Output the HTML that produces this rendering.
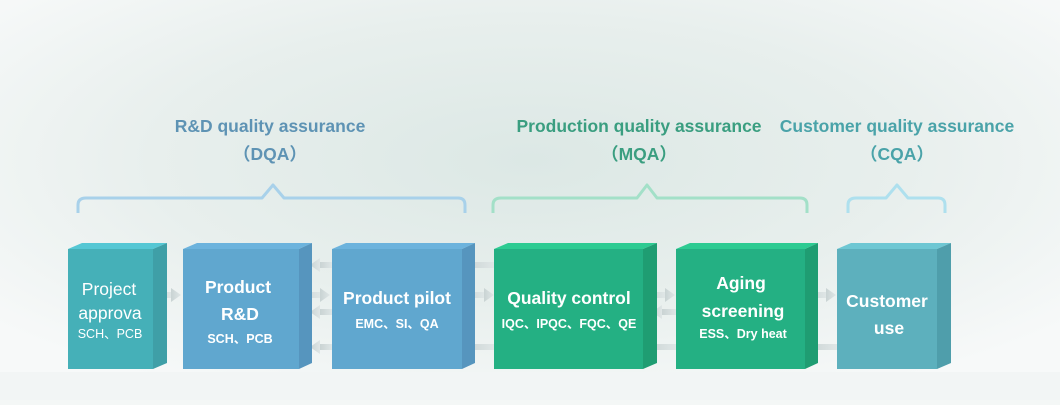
<!DOCTYPE html>
<html><head><meta charset="utf-8"><style>
html,body{margin:0;padding:0;}
body{width:1060px;height:400px;overflow:hidden;background:#f4f7f6;font-family:"Liberation Sans","Noto Sans CJK SC",sans-serif;}
</style></head><body>
<svg width="1060" height="400" viewBox="0 0 1060 400" xmlns="http://www.w3.org/2000/svg" font-family="Liberation Sans, Noto Sans CJK SC, sans-serif">
<defs>
<radialGradient id="bg" cx="0.5" cy="0.4" r="0.65">
<stop offset="0" stop-color="#dce8e5"/><stop offset="0.55" stop-color="#e8efed"/><stop offset="1" stop-color="#f7f9f9"/>
</radialGradient>
<linearGradient id="ar" x1="0" x2="1"><stop offset="0" stop-color="#c9d3d3"/><stop offset="1" stop-color="#dfe6e6"/></linearGradient>
</defs>
<rect width="1060" height="400" fill="url(#bg)"/>
<rect x="0" y="372" width="1060" height="28" fill="#f2f5f5"/>
<g font-weight="bold" font-size="17.5" text-anchor="middle">
<text x="270" y="132" fill="#5e93b4">R&amp;D quality assurance</text>
<text x="270" y="160" fill="#5e93b4">（DQA）</text>
<text x="639" y="132" fill="#3a9e80">Production quality assurance</text>
<text x="639" y="160" fill="#3a9e80">（MQA）</text>
<text x="897" y="132" fill="#4aa3a9">Customer quality assurance</text>
<text x="897" y="160" fill="#4aa3a9">（CQA）</text>
</g>
<g fill="none" stroke-width="3" stroke-linejoin="round">
<path d="M78,213 L78,205 Q78,198 86,198 L262,198 L273,185 L284,198 L458,198 Q465,198 465,205 L465,213" stroke="#a8d1ea"/>
<path d="M493,213 L493,205 Q493,198 501,198 L637,198 L647,185 L657,198 L800,198 Q807,198 807,205 L807,213" stroke="#a3e0c8"/>
<path d="M848,213 L848,205 Q848,198 856,198 L886,198 L897,185 L908,198 L938,198 Q945,198 945,205 L945,213" stroke="#aee0ee"/>
</g>
<g fill="url(#ar)">
<rect x="155" y="292" width="16" height="6"/><polygon points="171,288 181,295 171,302"/>
<rect x="300" y="292" width="20" height="6"/><polygon points="320,288 330,295 320,302"/>
<rect x="320" y="262" width="12" height="6"/><polygon points="320,258 310,265 320,272"/>
<rect x="320" y="309" width="12" height="6"/><polygon points="320,305 310,312 320,319"/>
<rect x="320" y="344" width="12" height="6"/><polygon points="320,340 310,347 320,354"/>
<rect x="464" y="262" width="30" height="6"/>
<rect x="464" y="292" width="20" height="6"/><polygon points="484,288 494,295 484,302"/>
<rect x="464" y="344" width="30" height="6"/>
<rect x="645" y="292" width="20" height="6"/><polygon points="665,288 675,295 665,302"/>
<rect x="662" y="309" width="14" height="6"/><polygon points="662,305 652,312 662,319"/>
<rect x="645" y="344" width="31" height="6"/>
<rect x="806" y="292" width="20" height="6"/><polygon points="826,288 836,295 826,302"/>
<rect x="806" y="344" width="31" height="6"/>
</g>
<g>
<polygon points="68,249 82,243 167,243 153,249" fill="#55c7d4"/>
<polygon points="153,249 167,243 167,363 153,369" fill="#3f9fa7"/>
<rect x="68" y="249" width="85" height="120" fill="#45b0b8"/>
<polygon points="183,249 197,243 312,243 299,249" fill="#6cb3dd"/>
<polygon points="299,249 312,243 312,363 299,369" fill="#5695be"/>
<rect x="183" y="249" width="116" height="120" fill="#60a7cf"/>
<polygon points="332,249 346,243 475,243 462,249" fill="#6cb3dd"/>
<polygon points="462,249 475,243 475,363 462,369" fill="#5695be"/>
<rect x="332" y="249" width="130" height="120" fill="#60a7cf"/>
<polygon points="494,249 508,243 657,243 643,249" fill="#2dcb92"/>
<polygon points="643,249 657,243 657,363 643,369" fill="#1f9d72"/>
<rect x="494" y="249" width="149" height="120" fill="#24b083"/>
<polygon points="676,249 690,243 818,243 805,249" fill="#2dcb92"/>
<polygon points="805,249 818,243 818,363 805,369" fill="#1f9d72"/>
<rect x="676" y="249" width="129" height="120" fill="#24b083"/>
<polygon points="837,249 851,243 951,243 937,249" fill="#6ec7d3"/>
<polygon points="937,249 951,243 951,363 937,369" fill="#4f9eab"/>
<rect x="837" y="249" width="100" height="120" fill="#5db0bd"/>
</g>
<g fill="#fff" font-weight="bold" text-anchor="middle">
<text x="109" y="295" font-size="17.5" font-weight="normal">Project</text>
<text x="110" y="319" font-size="17.5" font-weight="normal">approva</text>
<text x="110" y="338" font-size="12.5" font-weight="normal">SCH、PCB</text>
<text x="238" y="293" font-size="17.5">Product</text>
<text x="240" y="320" font-size="17.5">R&amp;D</text>
<text x="240" y="343" font-size="12.5">SCH、PCB</text>
<text x="397" y="304" font-size="17.5">Product pilot</text>
<text x="397" y="328" font-size="12.5">EMC、SI、QA</text>
<text x="569" y="304" font-size="17.5">Quality control</text>
<text x="569" y="328" font-size="12.5">IQC、IPQC、FQC、QE</text>
<text x="741" y="289" font-size="17.5">Aging</text>
<text x="743" y="317" font-size="17.5">screening</text>
<text x="743" y="338" font-size="12.5">ESS、Dry heat</text>
<text x="887" y="307" font-size="17.5">Customer</text>
<text x="889" y="334" font-size="17.5">use</text>
</g>
</svg>
</body></html>
